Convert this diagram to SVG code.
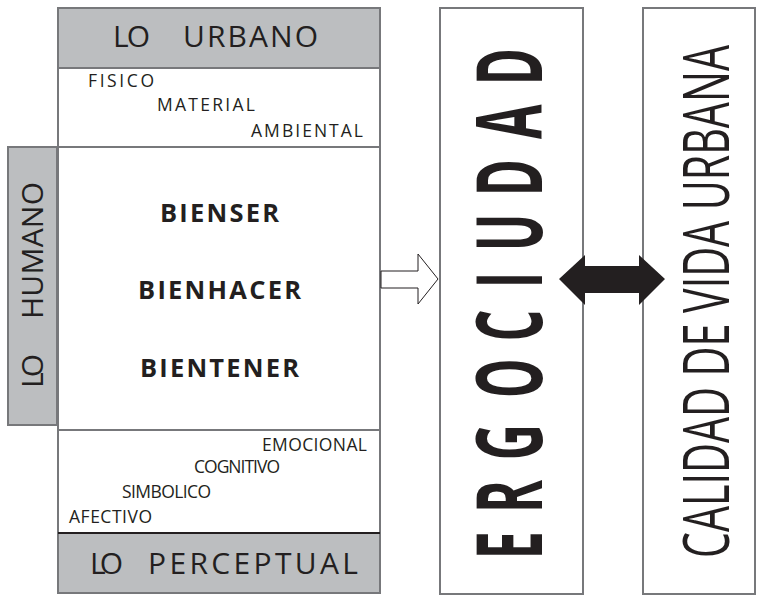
<svg xmlns="http://www.w3.org/2000/svg" width="761" height="596" viewBox="0 0 761 596">
<style>
.box{fill:#fff;stroke:#77787b;stroke-width:2}
.gray{fill:#bcbec0;stroke:#77787b;stroke-width:2}
.t{font-family:"Open Sans","Liberation Sans",sans-serif;fill:#231f20}
.big{font-size:30px}
.sm{font-size:17.5px}
.bold{font-size:25.5px;font-weight:bold}
</style>
<rect width="761" height="596" fill="#fff"/>
<g id="lo-urbano">
<rect class="gray" x="58" y="8" width="322" height="60"/>
<text class="t big" y="47"><tspan x="113" textLength="37">LO</tspan><tspan x="183" textLength="135">URBANO</tspan></text>
</g>
<g id="urbano-aspectos">
<rect class="box" x="58" y="68" width="322" height="79"/>
<text class="t sm" x="88" y="87" textLength="66">FISICO</text>
<text class="t sm" x="157" y="111" textLength="98">MATERIAL</text>
<text class="t sm" x="251" y="137" textLength="112">AMBIENTAL</text>
</g>
<g id="bien">
<rect class="box" x="58" y="147" width="322" height="283"/>
<text class="t bold" x="160" y="222" textLength="119">BIENSER</text>
<text class="t bold" x="138" y="299" textLength="163">BIENHACER</text>
<text class="t bold" x="140" y="377" textLength="159">BIENTENER</text>
</g>
<g id="lo-humano">
<rect class="gray" x="8" y="147" width="49" height="278"/>
<text class="t big" transform="translate(43,388) rotate(-90)"><tspan x="0" textLength="34">LO</tspan><tspan x="69" textLength="137">HUMANO</tspan></text>
</g>
<g id="perceptual-aspectos">
<rect class="box" x="58" y="430" width="322" height="103"/>
<text class="t sm" x="262" y="451" textLength="105">EMOCIONAL</text>
<text class="t sm" x="194" y="473" textLength="86">COGNITIVO</text>
<text class="t sm" x="122" y="498" textLength="89">SIMBOLICO</text>
<text class="t sm" x="69" y="523" textLength="83">AFECTIVO</text>
</g>
<g id="lo-perceptual">
<rect class="gray" x="58" y="533" width="322" height="60"/>
<line x1="58" y1="533" x2="380" y2="533" stroke="#231f20" stroke-width="2"/>
<text class="t big" y="574"><tspan x="90" textLength="33">LO</tspan><tspan x="148" textLength="210">PERCEPTUAL</tspan></text>
</g>
<g id="ergociudad">
<rect class="box" x="440" y="8" width="143" height="586"/>
<text class="t" font-size="91" font-weight="bold" transform="translate(542,556) rotate(-90) scale(0.55,1)" x="-6 78 174 287 390 487 554 654 758 856" y="0">ERGOCIUDAD</text>
</g>
<g id="calidad">
<rect class="box" x="643" y="8" width="112" height="586"/>
<text class="t" font-size="64" transform="translate(729,558) rotate(-90) scale(0.6,1)" x="0" y="0" textLength="855" lengthAdjust="spacingAndGlyphs">CALIDAD DE VIDA URBANA</text>
</g>
<g id="connectors">
<polygon points="381,271 418,271 418,254 438,279 418,304 418,288 381,288" fill="#fff" stroke="#231f20" stroke-width="1"/>
<polygon points="559,279 585,255 585,266 639,266 639,255 665,279 639,305 639,293 585,293 585,305" fill="#231f20"/>
</g>
</svg>
